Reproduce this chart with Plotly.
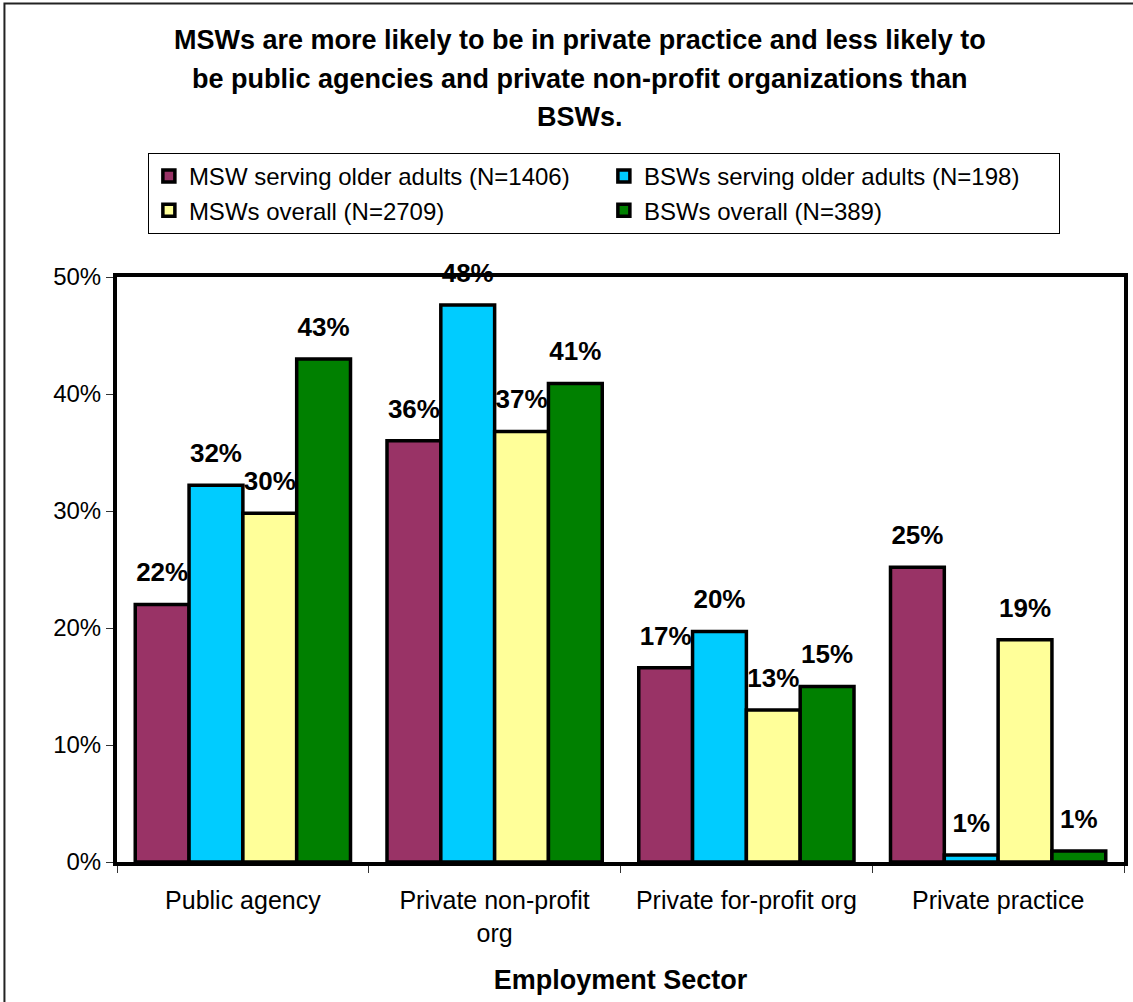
import plotly.graph_objects as go

# Employment sector categories and share of respondents in each group
sectors = ["Public agency", "Private non-profit<br>org", "Private for-profit org", "Private practice"]
msw_older = [0.220, 0.360, 0.166, 0.252]
bsw_older = [0.322, 0.476, 0.197, 0.006]
msw_overall = [0.298, 0.368, 0.130, 0.190]
bsw_overall = [0.430, 0.409, 0.150, 0.0094]

series_names = [
    "MSW serving older adults (N=1406)",
    "BSWs serving older adults (N=198)",
    "MSWs overall (N=2709)",
    "BSWs overall (N=389)",
]
series_values = [msw_older, bsw_older, msw_overall, bsw_overall]
series_colors = ["#993366", "#00CCFF", "#FFFF99", "#008000"]

title_lines = [
    "MSWs are more likely to be in private practice and less likely to",
    "be public agencies and private non-profit organizations than",
    "BSWs.",
]

FONT = "Liberation Sans, Arial, sans-serif"
W, H = 1133, 1002
M_L, M_R, M_T, M_B = 117, 5, 277, 140

pw = W - M_L - M_R
ph = H - M_T - M_B


def px_x(v):
    return (v - M_L) / pw


def px_y(v):
    return (H - M_B - v) / ph


fig = go.Figure()
for name, vals, color in zip(series_names, series_values, series_colors):
    fig.add_trace(go.Bar(
        x=sectors,
        y=vals,
        name=name,
        offsetgroup=name,
        marker=dict(color=color, line=dict(color="black", width=3.5)),
        hovertemplate="%{x}: %{y:.0%}<extra>" + name + "</extra>",
    ))

# value labels, grouped the same way as the bars and lifted by an invisible marker
for name, vals in zip(series_names, series_values):
    fig.add_trace(go.Scatter(
        x=sectors,
        y=vals,
        mode="markers+text",
        offsetgroup=name,
        marker=dict(size=25, opacity=0),
        texttemplate="<b>%{y:.0%}</b>",
        textposition="top center",
        textfont=dict(family=FONT, size=26, color="black"),
        showlegend=False,
        hoverinfo="skip",
        cliponaxis=False,
    ))

# outer frame of the chart
fig.add_shape(
    type="rect", xref="paper", yref="paper",
    x0=px_x(4), x1=px_x(1145), y0=px_y(1015), y1=px_y(3.5),
    line=dict(color="#222222", width=2), fillcolor="rgba(0,0,0,0)", layer="below",
)

# title, one line per annotation
for line, ypx in zip(title_lines, [40, 79, 117]):
    fig.add_annotation(
        text="<b>" + line + "</b>",
        xref="paper", yref="paper",
        x=px_x(582), y=px_y(ypx), xanchor="center", yanchor="middle",
        showarrow=False,
        font=dict(family=FONT, size=27, color="black"),
    )

fig.update_layout(
    width=W, height=H,
    margin=dict(l=M_L, r=M_R, t=M_T, b=M_B),
    paper_bgcolor="white", plot_bgcolor="white",
    barmode="group", bargap=0.145, bargroupgap=0,
    scattermode="group", scattergap=0.145,
    font=dict(family=FONT, size=22, color="black"),
    legend=dict(
        orientation="h",
        x=px_x(148), xanchor="left",
        y=px_y(153), yanchor="top",
        entrywidth=410, entrywidthmode="pixels",
        bordercolor="black", borderwidth=1,
        bgcolor="white",
        font=dict(family=FONT, size=24, color="black"),
        traceorder="normal",
    ),
    showlegend=True,
)

fig.update_xaxes(
    showline=True, linecolor="black", linewidth=4, mirror=True,
    ticks="outside", tickson="boundaries", ticklen=7, tickcolor="#333333", tickwidth=1,
    ticklabelstandoff=13,
    tickfont=dict(family=FONT, size=25, color="black"),
    title=dict(text="<b>Employment Sector</b>", font=dict(family=FONT, size=27, color="black"), standoff=26),
)
fig.update_yaxes(
    range=[0, 0.5], dtick=0.1, tickformat=".0%",
    showline=True, linecolor="black", linewidth=4, mirror=True,
    showgrid=False, zeroline=False,
    ticks="outside", ticklen=7, tickcolor="#333333", tickwidth=1,
    tickfont=dict(family=FONT, size=24, color="black"),
)

fig.write_html("out.html")
